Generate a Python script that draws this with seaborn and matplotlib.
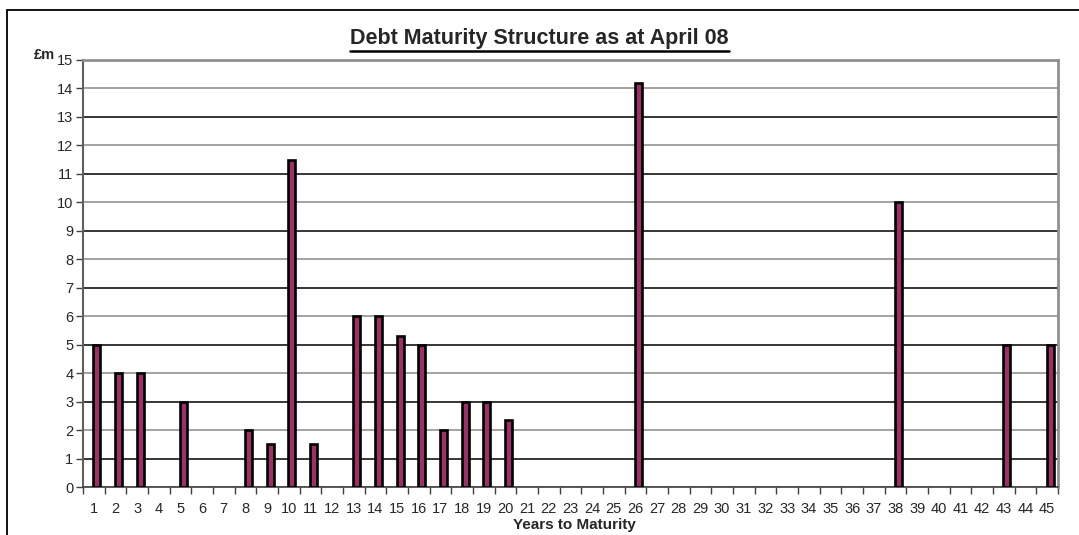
import numpy as np
import pandas as pd
import matplotlib
matplotlib.use("Agg")
import matplotlib.pyplot as plt
from matplotlib.lines import Line2D
import seaborn as sns

years = list(range(1, 46))
amounts = [5, 4, 4, 0, 3, 0, 0, 2, 1.5, 11.5,
           1.5, 0, 6, 6, 5.3, 5, 2, 3, 3, 2.35,
           0, 0, 0, 0, 0, 14.2, 0, 0, 0, 0,
           0, 0, 0, 0, 0, 0, 0, 10, 0, 0,
           0, 0, 5, 0, 5]
y_ticks = list(range(0, 16))
title = "Debt Maturity Structure as at April 08"
x_label = "Years to Maturity"
y_label = "£m"

sns.set_theme(style="white")
plt.rcParams['font.family'] = ['Liberation Sans', 'DejaVu Sans']

df = pd.DataFrame({"year": [str(y) for y in years], "amount": amounts})

fig = plt.figure(figsize=(10.79, 5.35), dpi=100)
ax = fig.add_axes([0.0769, 0.0897, 0.9036, 0.7982])

sns.barplot(data=df, x="year", y="amount", order=df["year"], color="#993366",
            saturation=1, width=0.33, edgecolor="black", linewidth=1.9, ax=ax,
            zorder=3)
for p in ax.patches:
    p.set_x(p.get_x() + 0.14)
    if p.get_height() == 0:
        p.set_visible(False)

n = len(years)
ax.set_xlim(-0.5, n - 0.5)
ax.set_ylim(0, 15)
ax.set_yticks(y_ticks)
ax.set_yticklabels([str(v) for v in y_ticks], fontsize=10.5)

# x: major ticks at category boundaries, labels at centers
ax.set_xticks(np.arange(-0.5, n, 1.0))
ax.set_xticklabels([])
ax.set_xticks(np.arange(n), minor=True)
ax.set_xticklabels([str(y) for y in years], minor=True, fontsize=10.5)
ax.tick_params(axis="x", which="major", direction="out", length=5, width=1,
               color="#404040", bottom=True)
ax.tick_params(axis="x", which="minor", length=0, pad=11, bottom=True)
ax.tick_params(axis="y", direction="out", length=5, width=1, color="#404040",
               left=True, pad=2)

ax.set_xlabel("")
ax.set_ylabel("")

# horizontal gridlines
ax.yaxis.grid(True, zorder=0)
ax.set_axisbelow(True)
for v, gl in zip(y_ticks, ax.get_ygridlines()):
    if v % 2 == 1:
        gl.set_color("black")
        gl.set_linewidth(1.1)
    else:
        gl.set_color("#8a8a8a")
        gl.set_linewidth(1.1)

for s in ["top", "right"]:
    ax.spines[s].set_color("#909090")
    ax.spines[s].set_linewidth(2)
ax.spines["left"].set_color("#606060")
ax.spines["left"].set_linewidth(1.5)
ax.spines["bottom"].set_color("#404040")
ax.spines["bottom"].set_linewidth(1.2)

ax.text(-0.04, 1.003, y_label, transform=ax.transAxes, fontsize=10.5,
        fontweight="bold", ha="center", va="baseline")
fig.text(0.532, 0.018, x_label, fontsize=11, fontweight="bold",
         ha="center", va="center")

t = fig.text(0.5, 0.917, title, fontsize=15.5, fontweight="bold",
             ha="center", va="baseline")
fig.canvas.draw()
bb = t.get_window_extent(renderer=fig.canvas.get_renderer())
W, H = fig.get_size_inches() * fig.dpi
uy = (bb.y0 - 2) / H
fig.add_artist(Line2D([bb.x0 / W, bb.x1 / W], [uy, uy], color="black",
                      linewidth=1.8))

# outer frame (top and left)
fig.add_artist(Line2D([0.0065, 1.0], [0.981, 0.981], color="black", linewidth=1.3))
fig.add_artist(Line2D([0.0065, 0.0065], [0.0, 0.981], color="black", linewidth=1.3))

fig.savefig("out.png", dpi=100)
